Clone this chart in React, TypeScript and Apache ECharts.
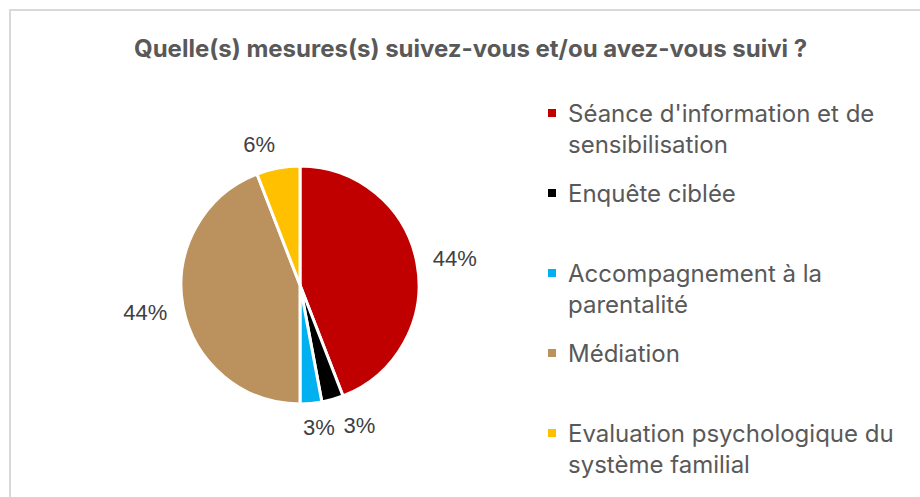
import React, { useEffect, useRef } from "react";
import * as echarts from "echarts";

const TITLE = "Quelle(s) mesures(s) suivez-vous et/ou avez-vous suivi ?";
const categories = [
  "Séance d'information et de sensibilisation",
  "Enquête ciblée",
  "Accompagnement à la parentalité",
  "Médiation",
  "Evaluation psychologique du système familial",
];
const legendLines = [
  ["Séance d'information et de", "sensibilisation"],
  ["Enquête ciblée"],
  ["Accompagnement à la", "parentalité"],
  ["Médiation"],
  ["Evaluation psychologique du", "système familial"],
];
const values = [15, 1, 1, 15, 2];
const colors = ["#C00000", "#000000", "#00B0F0", "#BB925D", "#FFC000"];

// layout / style constants
const FONT = "Inter";
const LINE_H = 31;
const LEGEND_FIRST_LINE_Y = [113, 193, 273, 353, 433];
const LABEL_NUDGE: Record<number, [number, number]> = {
  0: [0, -3],
  1: [3, 15],
  2: [-14, 13],
  3: [0, 4],
  4: [4, -13],
};
// square on the first text line, kept at the top of a taller icon box
const TALL_ICON = "path://M0,0H10V10H0Z M0,41 L0.001,41";

export default function App() {
  const ref = useRef<HTMLDivElement>(null);
  useEffect(() => {
    if (!ref.current) return;
    const chart = echarts.init(ref.current, undefined, { renderer: "svg" });
    const legends = categories.map((name, i) => {
      const twoLines = legendLines[i].length > 1;
      return {
        orient: "vertical",
        left: 541,
        top: LEGEND_FIRST_LINE_Y[i] - 5 - LINE_H / 2,
        itemWidth: 10,
        itemHeight: twoLines ? 10 + LINE_H : 10,
        icon: twoLines ? TALL_ICON : "rect",
        data: [name],
        formatter: (n: string) => legendLines[categories.indexOf(n)].join("\n"),
        textStyle: {
          fontFamily: FONT,
          fontSize: 24,
          lineHeight: LINE_H,
          color: "#595959",
          padding: [0, 0, 0, 6],
        },
      };
    });
    chart.setOption({
      animation: false,
      backgroundColor: "#ffffff",
      title: {
        text: TITLE,
        left: 129,
        top: 31,
        textStyle: {
          fontFamily: FONT,
          fontSize: 24,
          fontWeight: "bold",
          color: "#595959",
        },
      },
      graphic: [
        {
          type: "rect",
          shape: { x: 10, y: 10, width: 1000, height: 1000 },
          style: { fill: "none", stroke: "#d9d9d9", lineWidth: 2 },
          silent: true,
        },
      ],
      legend: legends,
      series: [
        {
          type: "pie",
          center: [300, 285],
          radius: 119,
          startAngle: 90,
          clockwise: true,
          avoidLabelOverlap: false,
          itemStyle: { borderColor: "#ffffff", borderWidth: 3 },
          label: {
            show: true,
            position: "outside",
            formatter: (p: any) => Math.round(p.percent) + "%",
            fontFamily: "Liberation Sans",
            fontSize: 22,
            color: "#404040",
          },
          labelLine: { show: false, length: 11, length2: 0 },
          labelLayout: (p: any) => {
            const n = LABEL_NUDGE[p.dataIndex];
            return n ? { dx: n[0], dy: n[1] } : {};
          },
          data: categories.map((name, i) => ({
            name,
            value: values[i],
            itemStyle: { color: colors[i] },
          })),
        },
      ],
    });
    return () => chart.dispose();
  }, []);
  return (
    <div
      ref={ref}
      style={{ position: "fixed", left: 0, top: 0, width: 920, height: 497 }}
    />
  );
}
